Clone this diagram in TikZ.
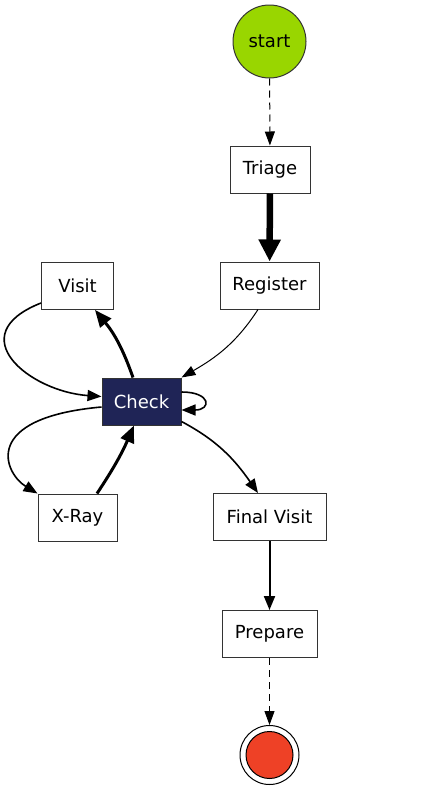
\documentclass[tikz,border=0pt]{standalone}
\usepackage{fontspec}
\setmainfont{DejaVu Sans}
\usetikzlibrary{arrows.meta,calc}
\definecolor{startgreen}{RGB}{153,214,0}
\definecolor{endred}{RGB}{238,65,38}
\definecolor{checknavy}{RGB}{31,36,86}
\begin{document}
\begin{tikzpicture}[x=1pt,y=1pt,
  font=\fontsize{18}{21}\selectfont,
  box/.style={draw=black!80, line width=1pt, minimum height=47pt, inner sep=0pt, fill=white},
  edge/.style={line width=1pt, -{Triangle[length=14pt,width=10pt]}},
  dashedge/.style={edge, dash pattern=on 7pt off 5pt},
  medge/.style={line width=1.6pt, -{Triangle[length=14pt,width=11pt]}},
  bedge/.style={line width=3pt, -{Triangle[length=17pt,width=14pt]}},
  hedge/.style={line width=6.5pt, -{Triangle[length=22pt,width=21pt]}}]
\useasboundingbox (0,0) rectangle (426,-790);
\node[circle, draw=black!80, line width=1pt, fill=startgreen, minimum size=73pt, inner sep=0pt] (start) at (269.5,-41.5) {start};
\node[box, minimum width=80pt] (triage) at (270,-169.5) {Triage};
\node[box, minimum width=99pt] (register) at (269.5,-285.5) {Register};
\node[box, minimum width=72pt] (visit) at (77.5,-286) {Visit};
\node[box, minimum width=79pt, fill=checknavy, text=white] (check) at (141.5,-401.5) {Check};
\node[box, minimum width=79pt] (xray) at (77.5,-517.5) {X-Ray};
\node[box, minimum width=113pt] (final) at (269.5,-517) {Final Visit};
\node[box, minimum width=95pt] (prepare) at (269.5,-634) {Prepare};
\node[circle, draw=black, line width=1pt, fill=white, minimum size=59pt, inner sep=0pt] (end) at (269.5,-755) {};
\node[circle, draw=black, line width=1pt, fill=endred, minimum size=47pt, inner sep=0pt] (endin) at (end.center) {};

\draw[dashedge] (start) -- (triage);
\draw[hedge] (triage) -- (register);
\draw[edge] ($(register.south)+(-11.5,0)$) to[out=237,in=30] (check.north east);
\draw[bedge] ($(check.north)+(-8.5,0)$) to[bend right=10] ($(visit.south)+(17.5,0)$);
\draw[medge] ($(visit.west)+(0,-17)$) .. controls +(-81,-32) and +(-72,5) .. ($(check.west)+(0,5)$);
\draw[medge] ($(check.east)+(0,9.5)$) .. controls +(30,0) and +(30,0) .. ($(check.east)+(0,-8.5)$);
\draw[medge] ($(check.west)+(0,-5.5)$) .. controls +(-122,-11) and +(-33,20) .. (xray.north west);
\draw[bedge] ($(xray.north)+(19.5,0)$) to[bend right=5] ($(check.south)+(-7.5,0)$);
\draw[medge] ($(check.south east)+(0,4)$) to[out=-28,in=125] ($(final.north)+(-11.5,0)$);
\draw[line width=2pt, -{Triangle[length=14pt,width=11pt]}] (final) -- (prepare);
\draw[dashedge] (prepare) -- (end);
\end{tikzpicture}
\end{document}
